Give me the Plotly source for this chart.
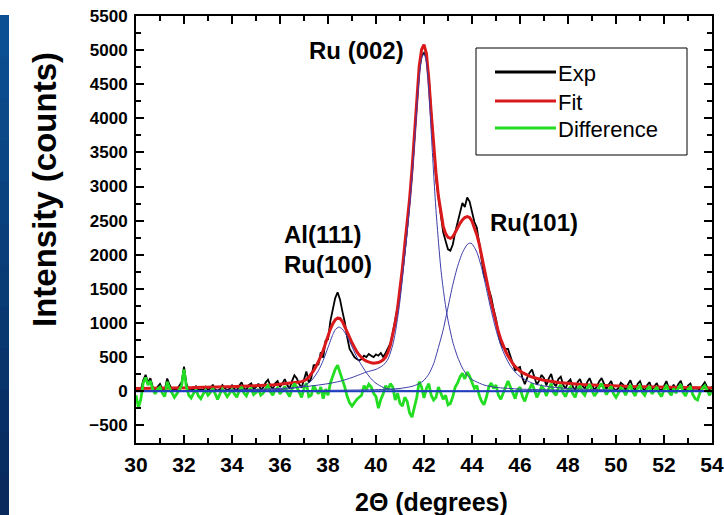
import numpy as np
import plotly.graph_objects as go

# ---------------- data ----------------
two_theta = np.round(np.arange(30.0, 54.05, 0.1), 1)   # scan grid, 0.1 deg step

exp_counts = [
    10, 20, 15, 160, 240, 130, 190, 60, 20, 70,
    105, 30, 20, 185, 90, 30, 20, 25, 80, 130,
    360, 110, 20, 15, 25, 70, 20, 15, 20, 65,
    20, 40, 95, 20, 10, 25, 90, 45, 15, 35,
    85, 30, 15, 80, 130, 40, 20, 90, 115, 30,
    58, 110, 22, 54, 126, 168, 80, 32, 115, 148,
    61, 114, 177, 90, 34, 148, 232, 187, 103, 50,
    190, 290, 125, 190, 380, 380, 390, 570, 490, 740,
    760, 1030, 1210, 1365, 1450, 1345, 1170, 1010, 790, 620,
    560, 500, 470, 450, 470, 520, 500, 545, 520, 500,
    540, 520, 560, 500, 560, 620, 700, 860, 1020, 1230,
    1450, 1720, 2050, 2400, 2750, 3200, 3700, 4250, 4700, 4920,
    4960, 4900, 4600, 4100, 3550, 3120, 2850, 2550, 2330, 2200,
    2080, 2060, 2150, 2330, 2480, 2620, 2760, 2700, 2840, 2780,
    2650, 2480, 2400, 2150, 1920, 1700, 1600, 1500, 1380, 1200,
    1060, 830, 700, 640, 620, 620, 520, 420, 300, 340,
    355, 192, 102, 195, 270, 317, 215, 95, 156, 238,
    190, 83, 187, 251, 116, 71, 177, 213, 89, 36,
    133, 170, 67, 14, 131, 179, 77, 35, 133, 191,
    99, 17, 65, 143, 191, 110, 29, 98, 147, 36,
    15, 44, 123, 92, 11, 100, 159, 58, 10, 106,
    145, 44, 10, 92, 131, 20, 70, 119, 29, 10,
    78, 147, 47, 10, 96, 25, 105, 154, 34, 10,
    83, 112, 10, 10, 10, 30, 90, 129, 59, 10,
    68,
]

fit_counts = [
    40, 40, 41, 41, 42, 42, 43, 43, 44, 44,
    45, 45, 46, 46, 47, 47, 48, 48, 49, 49,
    50, 50, 51, 51, 52, 52, 53, 53, 54, 54,
    55, 56, 57, 58, 59, 60, 61, 62, 63, 64,
    65, 66, 67, 68, 69, 70, 71, 72, 74, 76,
    78, 80, 82, 84, 86, 88, 90, 92, 95, 98,
    101, 104, 107, 110, 114, 118, 122, 127, 133, 140,
    150, 170, 205, 250, 300, 360, 430, 510, 600, 710,
    820, 910, 990, 1045, 1070, 1065, 1020, 950, 870, 790,
    710, 640, 580, 530, 490, 460, 440, 425, 415, 410,
    412, 420, 435, 460, 500, 570, 680, 820, 1000, 1220,
    1480, 1800, 2150, 2470, 2820, 3250, 3750, 4300, 4760, 5010,
    5080, 4950, 4580, 4080, 3620, 3200, 2860, 2600, 2420, 2310,
    2255, 2240, 2265, 2325, 2395, 2460, 2510, 2545, 2560, 2545,
    2490, 2405, 2295, 2160, 2000, 1830, 1650, 1470, 1300, 1140,
    1000, 870, 760, 665, 585, 515, 455, 405, 360, 325,
    295, 272, 252, 235, 220, 207, 195, 185, 176, 168,
    160, 153, 147, 141, 136, 131, 127, 123, 119, 116,
    113, 110, 107, 104, 101, 99, 97, 95, 93, 91,
    89, 87, 85, 83, 81, 80, 79, 78, 77, 76,
    75, 74, 73, 72, 71, 70, 69, 68, 67, 66,
    65, 64, 63, 62, 61, 60, 60, 59, 59, 58,
    58, 57, 57, 56, 56, 55, 55, 54, 54, 53,
    53, 52, 52, 51, 51, 50, 50, 49, 49, 48,
    48,
]

diff_counts = [
    -60, -240, -120, 120, 200, 90, 150, 20, -40, 30,
    60, -30, -80, 140, 40, -20, -90, -40, 30, 80,
    320, 60, -60, -100, -30, 20, -70, -110, -40, 10,
    -60, -20, 40, -50, -120, -40, 30, -20, -80, -30,
    20, -40, -90, 10, 60, -30, -70, 20, 40, -50,
    -20, 30, -60, -30, 40, 80, -10, -60, 20, 50,
    -40, 10, 70, -20, -80, 30, 110, 60, -30, -90,
    40, 120, -80, -60, 80, 20, -40, 60, -110, 30,
    -60, 120, 220, 320, 380, 280, 150, 60, -80, -170,
    -220, -160, -120, -90, -60, 80, 30, 100, 60, -30,
    -80, -250, -120, -40, 80, 20, 110, 60, -130, -30,
    -180, -220, -90, -150, -320, -380, -250, -90, 140, 60,
    -100, 40, 110, -60, -130, -90, 60, -30, -120, -60,
    -200, -180, -80, 60, 120, 210, 260, 180, 280, 220,
    120, 40, 80, -60, -150, -200, -90, 60, 120, 40,
    90, -60, -120, -30, 70, 150, 60, -40, -110, 20,
    60, -80, -150, -40, 50, 110, 20, -90, -20, 70,
    30, -70, 40, 110, -20, -60, 50, 90, -30, -80,
    20, 60, -40, -90, 30, 80, -20, -60, 40, 100,
    10, -70, -20, 60, 110, 30, -50, 20, 70, -40,
    -90, -30, 50, 20, -60, 30, 90, -10, -70, 40,
    80, -20, -60, 30, 70, -40, 10, 60, -30, -80,
    20, 90, -10, -60, 40, -30, 50, 100, -20, -70,
    30, 60, -50, -110, -130, -20, 40, 80, 10, -60,
    20,
]

# fitted components (thin blue lines)
al111_x = [30, 34, 35, 36, 36.5, 37.0, 37.3, 37.6, 37.8, 38.0, 38.2, 38.3, 38.45, 38.6,
           38.8, 39.0, 39.2, 39.4, 39.6, 39.8, 40.0, 40.3, 40.6, 41, 42, 44, 54]
al111_y = [2, 10, 15, 25, 40, 80, 150, 300, 450, 640, 830, 900, 940, 910,
           800, 650, 500, 380, 270, 180, 115, 55, 25, 12, 5, 2, 0]

ru002_x = [30, 33, 35, 36, 36.5, 37, 37.5, 38, 38.5, 39, 39.3, 39.6, 40.0, 40.3, 40.5, 40.7,
           40.8, 40.9, 41.0, 41.1, 41.2, 41.3, 41.4, 41.5, 41.6, 41.7, 41.8, 41.9, 42.0,
           42.1, 42.2, 42.3, 42.4, 42.5, 42.6, 42.7, 42.8, 42.9, 43.0, 43.2, 43.4, 43.6,
           43.8, 44.0, 44.5, 45, 46, 48, 54]
ru002_y = [5, 12, 25, 40, 50, 65, 85, 110, 145, 200, 240, 280, 320, 380, 470, 680,
           850, 1070, 1330, 1650, 2000, 2330, 2700, 3130, 3620, 4150, 4600, 4870, 4950,
           4820, 4400, 3800, 3200, 2650, 2200, 1800, 1500, 1250, 1040, 720, 500, 340,
           230, 170, 90, 55, 30, 15, 5]

ru101_x = [30, 35, 38, 40, 41.0, 41.5, 41.8, 42.0, 42.2, 42.4, 42.6, 42.8, 43.0, 43.2,
           43.4, 43.6, 43.8, 43.9, 44.0, 44.2, 44.4, 44.6, 44.8, 45.0, 45.2, 45.4, 45.6,
           45.8, 46.0, 46.5, 47, 48, 50, 52, 54]
ru101_y = [2, 5, 12, 22, 40, 70, 110, 160, 250, 400, 640, 900, 1230, 1560,
           1830, 2030, 2150, 2170, 2160, 2040, 1810, 1500, 1180, 900, 670, 500, 370,
           280, 215, 120, 75, 38, 16, 9, 5]

baseline_x = [30, 54]
baseline_y = [0, 0]

x_tick_vals = list(range(30, 55, 2))
y_tick_vals = list(range(-500, 5501, 500))

peak_labels = [
    {"text": "Ru (002)", "x": 39.19, "y": 5000, "anchor": "center"},
    {"text": "Al(111)", "x": 36.08, "y": 2290, "anchor": "left"},
    {"text": "Ru(100)", "x": 36.08, "y": 1850, "anchor": "left"},
    {"text": "Ru(101)", "x": 44.67, "y": 2480, "anchor": "left"},
]

legend_items = [("Exp", "#000000"), ("Fit", "#d9191c"), ("Difference", "#22dd22")]

# ---------------- figure ----------------
W, H = 724, 515
L, R, T, B = 136, 12, 16, 72
PW, PH = W - L - R, H - T - B

def px(xpix):
    return (xpix - L) / PW

def py(ypix):
    return (H - B - ypix) / PH

FONT = "Liberation Sans, Arial, sans-serif"

fig = go.Figure()
fig.add_trace(go.Scatter(x=two_theta, y=exp_counts, mode="lines", name="Exp",
                         line=dict(color="#000000", width=1.8)))
fig.add_trace(go.Scatter(x=two_theta, y=fit_counts, mode="lines", name="Fit",
                         line=dict(color="#d9191c", width=3)))
fig.add_trace(go.Scatter(x=two_theta, y=diff_counts, mode="lines", name="Difference",
                         line=dict(color="#22dd22", width=2.8)))
for cx, cy in [(al111_x, al111_y), (ru002_x, ru002_y), (ru101_x, ru101_y)]:
    fig.add_trace(go.Scatter(x=cx, y=cy, mode="lines", showlegend=False,
                             line=dict(color="#3b3ba8", width=1, shape="spline", smoothing=0.6)))
fig.add_trace(go.Scatter(x=baseline_x, y=baseline_y, mode="lines", showlegend=False,
                         line=dict(color="#1f3fbf", width=2)))

axis_common = dict(showline=True, linecolor="black", linewidth=2, mirror="ticks",
                   ticks="inside", tickcolor="black", tickwidth=2, ticklen=8,
                   showgrid=False, zeroline=False)

fig.update_xaxes(range=[30, 54], tickvals=x_tick_vals,
                 minor=dict(ticks="inside", dtick=1, tick0=30, ticklen=5, tickwidth=2,
                            tickcolor="black", showgrid=False),
                 tickfont=dict(family=FONT, size=21, color="black", weight="bold"),
                 ticklabelstandoff=2, **axis_common)
fig.update_yaxes(range=[-760, 5500], tickvals=y_tick_vals,
                 minor=dict(ticks="inside", dtick=250, tick0=0, ticklen=5, tickwidth=2,
                            tickcolor="black", showgrid=False),
                 tickfont=dict(family=FONT, size=17, color="black", weight="bold"),
                 ticklabelstandoff=3, **axis_common)

shapes = []
# blue strip on the far left (vertical gradient approximated by overlapping bands)
n_band = 12
top_pix, bot_pix = 15, 515
band_h = (bot_pix - top_pix) / n_band
for i in range(n_band):
    y0p = top_pix + band_h * i
    y1p = min(bot_pix, y0p + band_h + 2)
    t = i / (n_band - 1)
    r_ = int(12 + (8 - 12) * t)
    g_ = int(80 + (42 - 80) * t)
    b_ = int(148 + (92 - 148) * t)
    shapes.append(dict(type="rect", xref="paper", yref="paper",
                       x0=px(0), x1=px(9), y0=py(y1p), y1=py(y0p),
                       fillcolor=f"rgb({r_},{g_},{b_})", line=dict(width=0), layer="above"))
# legend box
shapes.append(dict(type="rect", xref="paper", yref="paper",
                   x0=px(476), x1=px(687), y0=py(155), y1=py(48),
                   fillcolor="white", line=dict(color="black", width=1), layer="above"))
leg_rows = [72, 101, 128]
annotations = []
for (name, col), yr in zip(legend_items, leg_rows):
    shapes.append(dict(type="line", xref="paper", yref="paper",
                       x0=px(495), x1=px(556), y0=py(yr), y1=py(yr),
                       line=dict(color=col, width=3), layer="above"))
    annotations.append(dict(text=name, xref="paper", yref="paper", x=px(556), y=py(yr + 1),
                            xanchor="left", yanchor="middle", showarrow=False,
                            font=dict(family=FONT, size=22, color="black")))

for lab in peak_labels:
    annotations.append(dict(text=lab["text"], x=lab["x"], y=lab["y"], xref="x", yref="y",
                            xanchor=lab["anchor"], yanchor="middle", showarrow=False,
                            font=dict(family=FONT, size=24, color="black", weight="bold")))

annotations.append(dict(text="Intensity (counts)", xref="paper", yref="paper",
                        x=px(44), y=py(190), xanchor="center", yanchor="middle",
                        textangle=-90, showarrow=False,
                        font=dict(family=FONT, size=33, color="black", weight="bold")))
annotations.append(dict(text="2\u0398 (degrees)", xref="paper", yref="paper",
                        x=px(431), y=py(502), xanchor="center", yanchor="middle",
                        showarrow=False,
                        font=dict(family=FONT, size=25, color="black", weight="bold")))

fig.update_layout(width=W, height=H, margin=dict(l=L, r=R, t=T, b=B, autoexpand=False),
                  paper_bgcolor="white", plot_bgcolor="white", showlegend=False,
                  shapes=shapes, annotations=annotations)

fig.write_html("out.html")
